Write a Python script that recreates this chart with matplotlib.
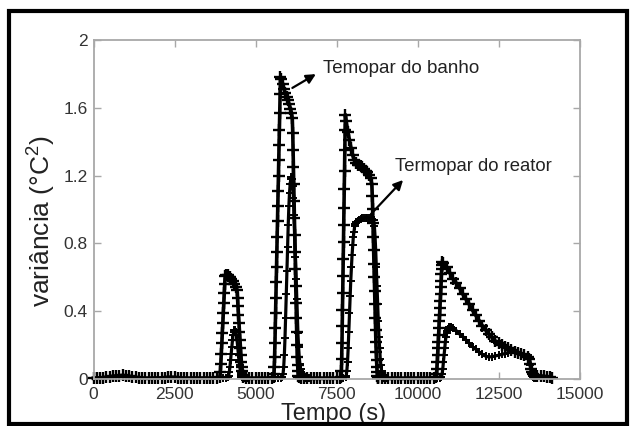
import matplotlib
matplotlib.use("Agg")
import matplotlib.pyplot as plt
from matplotlib.patches import Rectangle

plt.rcParams['font.family'] = ['Liberation Sans', 'DejaVu Sans']
plt.rcParams['mathtext.fontset'] = 'custom'
plt.rcParams['mathtext.rm'] = 'Liberation Sans'
plt.rcParams['mathtext.it'] = 'Liberation Sans'

# Termopar do banho: time (s) and variance (°C^2)
t_banho = [
    0, 100, 200, 300, 400, 500, 600, 700, 800, 900, 1000, 1100, 1200, 1300, 1400, 1500, 1600, 1700, 1800, 1900,
    2000, 2100, 2200, 2300, 2400, 2500, 2600, 2700, 2800, 2900, 3000, 3100, 3200, 3300, 3400, 3500, 3600, 3700, 3800, 3900,
    3915, 3930, 3945, 3960, 3975, 3990, 4005, 4020, 4035, 4050, 4065,
    4100, 4150, 4200, 4250, 4300, 4350, 4400, 4430,
    4445, 4460, 4475, 4490, 4505, 4520, 4535, 4550, 4565, 4580, 4595, 4610, 4625,
    4700, 4800, 4900, 5000, 5100, 5200, 5300, 5400, 5500,
    5560, 5570, 5580, 5590, 5600, 5610, 5620, 5630, 5640, 5650, 5660, 5670, 5680, 5690, 5700, 5710, 5720, 5730, 5740, 5750, 5760, 5770,
    5800, 5840, 5880, 5920, 5960, 6000, 6040, 6080, 6110, 6135,
    6150, 6160, 6170, 6180, 6190, 6200, 6210, 6220, 6230, 6240, 6250, 6260, 6270, 6280, 6290, 6300, 6310, 6320, 6330,
    6400, 6500, 6600, 6700, 6800, 6900, 7000, 7100, 7200, 7300, 7400, 7500, 7600,
    7645, 7653, 7661, 7669, 7677, 7685, 7693, 7701, 7709, 7717, 7725, 7733, 7741, 7749, 7757, 7765, 7773,
    7800, 7850, 7900, 7950, 8000, 8050, 8100, 8150, 8200, 8250, 8300, 8350, 8400, 8450, 8500, 8550, 8590,
    8605, 8615, 8625, 8635, 8645, 8655, 8665, 8675, 8685, 8695, 8705, 8715, 8725, 8735, 8745, 8755, 8765, 8775, 8785, 8795,
    8900, 9000, 9100, 9200, 9300, 9400, 9500, 9600, 9700, 9800, 9900, 10000, 10100, 10200, 10300, 10400, 10500,
    10580, 10590, 10600, 10610, 10620, 10630, 10640, 10650, 10660, 10670, 10680, 10690, 10700, 10710, 10720, 10730, 10740, 10750, 10760, 10770,
    10800, 10900, 11000, 11100, 11200, 11300, 11400, 11500, 11600, 11700, 11800, 11900, 12000, 12100, 12200, 12300, 12400, 12500,
    12600, 12700, 12800, 12900, 13000, 13100, 13200, 13300, 13400,
    13450, 13480, 13510, 13540, 13570, 13600, 13650, 13700, 13800, 13900, 14000, 14100, 14150,
]
v_banho = [
    0.004, 0.005, 0.006, 0.008, 0.010, 0.013, 0.016, 0.018, 0.020, 0.021, 0.019, 0.016, 0.012, 0.009, 0.007, 0.005, 0.004, 0.004, 0.004, 0.005,
    0.005, 0.006, 0.008, 0.009, 0.010, 0.009, 0.007, 0.005, 0.004, 0.004, 0.004, 0.005, 0.004, 0.004, 0.005, 0.004, 0.004, 0.005, 0.006, 0.010,
    0.04, 0.09, 0.15, 0.21, 0.27, 0.33, 0.39, 0.45, 0.51, 0.56, 0.61,
    0.615, 0.612, 0.60, 0.59, 0.578, 0.562, 0.545, 0.525,
    0.48, 0.43, 0.38, 0.33, 0.28, 0.23, 0.18, 0.14, 0.10, 0.07, 0.045, 0.025, 0.012,
    0.005, 0.004, 0.004, 0.003, 0.004, 0.004, 0.003, 0.004, 0.005,
    0.01, 0.03, 0.07, 0.13, 0.21, 0.30, 0.39, 0.48, 0.57, 0.66, 0.75, 0.84, 0.93, 1.02, 1.11, 1.20, 1.29, 1.38, 1.47, 1.57, 1.68, 1.78,
    1.77, 1.74, 1.71, 1.685, 1.665, 1.645, 1.62, 1.595, 1.57, 1.54,
    1.45, 1.35, 1.25, 1.15, 1.05, 0.95, 0.85, 0.75, 0.65, 0.55, 0.45, 0.36, 0.28, 0.20, 0.13, 0.08, 0.045, 0.02, 0.01,
    0.004, 0.004, 0.003, 0.004, 0.003, 0.003, 0.004, 0.003, 0.004, 0.003, 0.004, 0.004, 0.005,
    0.01, 0.05, 0.12, 0.21, 0.31, 0.41, 0.51, 0.61, 0.71, 0.81, 0.91, 1.01, 1.12, 1.23, 1.35, 1.47, 1.56,
    1.52, 1.46, 1.41, 1.36, 1.32, 1.29, 1.275, 1.265, 1.26, 1.255, 1.25, 1.24, 1.23, 1.22, 1.205, 1.185, 1.15,
    1.08, 1.00, 0.92, 0.84, 0.76, 0.68, 0.60, 0.52, 0.44, 0.36, 0.29, 0.22, 0.16, 0.11, 0.07, 0.04, 0.02, 0.012, 0.007, 0.005,
    0.004, 0.003, 0.004, 0.003, 0.004, 0.004, 0.003, 0.003, 0.004, 0.003, 0.004, 0.003, 0.004, 0.004, 0.003, 0.004, 0.005,
    0.01, 0.03, 0.06, 0.10, 0.14, 0.18, 0.22, 0.26, 0.30, 0.34, 0.38, 0.42, 0.46, 0.50, 0.54, 0.58, 0.62, 0.65, 0.675, 0.69,
    0.685, 0.66, 0.625, 0.59, 0.565, 0.535, 0.50, 0.47, 0.44, 0.405, 0.375, 0.345, 0.315, 0.29, 0.265, 0.245, 0.225, 0.21,
    0.20, 0.19, 0.18, 0.17, 0.16, 0.155, 0.15, 0.14, 0.13,
    0.12, 0.09, 0.06, 0.04, 0.03, 0.025, 0.02, 0.02, 0.018, 0.015, 0.012, 0.01, 0.008,
]

# Termopar do reator: time (s) and variance (°C^2)
t_reator = [
    0, 100, 200, 300, 400, 500, 600, 700, 800, 900, 1000, 1100, 1200, 1300, 1400, 1500, 1600, 1700, 1800, 1900, 2000,
    2100, 2200, 2300, 2400, 2500, 2600, 2700, 2800, 2900, 3000, 3100, 3200, 3300, 3400, 3500, 3600, 3700, 3800, 3900, 4000, 4100,
    4150, 4170, 4190, 4210, 4230, 4250, 4270, 4290, 4310, 4330, 4350, 4370,
    4390, 4410, 4430, 4450, 4470, 4490, 4510, 4530, 4550, 4570, 4590, 4610, 4630, 4650, 4670, 4690, 4710, 4730, 4750,
    4800, 4900, 5000, 5100, 5200, 5300, 5400, 5500, 5600, 5700, 5800,
    5830, 5850, 5870, 5890, 5910, 5930, 5950, 5970, 5990, 6010, 6030, 6050, 6070, 6090, 6110,
    6130, 6150, 6170, 6190, 6210, 6230, 6250, 6270, 6290, 6310, 6330, 6350, 6370, 6390, 6410, 6430, 6450, 6470, 6490, 6510,
    6530, 6550, 6570, 6590, 6610, 6630, 6650,
    6700, 6800, 6900, 7000, 7100, 7200, 7300, 7400, 7500, 7600, 7700,
    7780, 7800, 7820, 7840, 7860, 7880, 7900, 7920, 7940, 7960, 7980, 8000, 8020, 8040, 8060, 8080, 8100, 8150, 8200,
    8250, 8300, 8350, 8400, 8450, 8500, 8550, 8600, 8650,
    8670, 8690, 8710, 8730, 8750, 8770, 8790, 8810, 8830, 8850, 8870, 8890, 8910, 8930, 8950, 8970, 8990, 9010, 9030, 9050,
    9100, 9200, 9300, 9400, 9500, 9600, 9700, 9800, 9900, 10000, 10100, 10200, 10300, 10400, 10500, 10600, 10700,
    10740, 10760, 10780, 10800, 10820, 10840, 10860, 10880, 10900, 10920, 10940, 10960, 10980, 11000, 11020, 11040,
    11100, 11200, 11300, 11400, 11500, 11600, 11700, 11800, 11900, 12000, 12100, 12200, 12300, 12400, 12500, 12600,
    12700, 12800, 12900, 13000, 13100, 13200, 13300, 13400,
    13450, 13480, 13510, 13540, 13570, 13600, 13700, 13800,
]
v_reator = [
    0.003, 0.004, 0.005, 0.006, 0.008, 0.010, 0.012, 0.014, 0.015, 0.015, 0.014, 0.012, 0.010, 0.008, 0.006, 0.004, 0.003, 0.003, 0.003, 0.004, 0.004,
    0.005, 0.006, 0.007, 0.007, 0.006, 0.005, 0.004, 0.003, 0.003, 0.003, 0.004, 0.003, 0.003, 0.004, 0.003, 0.003, 0.004, 0.004, 0.005, 0.006, 0.008,
    0.01, 0.02, 0.04, 0.07, 0.11, 0.15, 0.19, 0.23, 0.26, 0.28, 0.29, 0.29,
    0.28, 0.26, 0.23, 0.19, 0.15, 0.11, 0.08, 0.05, 0.035, 0.022, 0.014, 0.009, 0.006, 0.005, 0.004, 0.004, 0.003, 0.003, 0.003,
    0.003, 0.003, 0.004, 0.003, 0.003, 0.004, 0.003, 0.003, 0.004, 0.004, 0.005,
    0.01, 0.03, 0.07, 0.14, 0.24, 0.36, 0.50, 0.64, 0.78, 0.91, 1.02, 1.10, 1.15, 1.18, 1.19,
    1.18, 1.14, 1.07, 0.97, 0.85, 0.72, 0.59, 0.47, 0.36, 0.27, 0.19, 0.13, 0.09, 0.06, 0.04, 0.03, 0.02, 0.015, 0.011, 0.008,
    0.006, 0.005, 0.004, 0.004, 0.003, 0.003, 0.003,
    0.003, 0.003, 0.004, 0.003, 0.003, 0.003, 0.004, 0.003, 0.003, 0.004, 0.004,
    0.01, 0.02, 0.05, 0.10, 0.18, 0.28, 0.39, 0.49, 0.58, 0.66, 0.73, 0.79, 0.84, 0.87, 0.90, 0.915, 0.925, 0.935, 0.94,
    0.945, 0.948, 0.95, 0.952, 0.952, 0.95, 0.948, 0.945, 0.94,
    0.90, 0.84, 0.76, 0.66, 0.55, 0.44, 0.34, 0.25, 0.18, 0.12, 0.08, 0.05, 0.03, 0.02, 0.012, 0.008, 0.005, 0.004, 0.003, 0.003,
    0.003, 0.003, 0.004, 0.003, 0.003, 0.003, 0.004, 0.003, 0.003, 0.004, 0.003, 0.003, 0.004, 0.003, 0.003, 0.004, 0.004,
    0.01, 0.03, 0.06, 0.10, 0.14, 0.18, 0.22, 0.25, 0.27, 0.285, 0.295, 0.302, 0.306, 0.308, 0.309, 0.309,
    0.30, 0.285, 0.265, 0.25, 0.23, 0.21, 0.19, 0.175, 0.16, 0.145, 0.135, 0.13, 0.132, 0.136, 0.14, 0.145,
    0.15, 0.155, 0.16, 0.16, 0.155, 0.15, 0.145, 0.14,
    0.12, 0.08, 0.04, 0.02, 0.01, 0.006, 0.004, 0.003,
]

x_ticks = [0, 2500, 5000, 7500, 10000, 12500, 15000]
x_ticklabels = ["0", "2500", "5000", "7500", "10000", "12500", "15000"]
y_ticks = [0, 0.4, 0.8, 1.2, 1.6, 2.0]
y_ticklabels = ["0", "0.4", "0.8", "1.2", "1.6", "2"]

fig = plt.figure(figsize=(6.3, 4.26), dpi=100)
ax = fig.add_axes([93.5 / 630, 47 / 426, 486 / 630, 339 / 426])

ax.plot(t_banho, v_banho, color="black", marker="+", markersize=8,
        markeredgewidth=1.7, linewidth=2.6, clip_on=False)
ax.plot(t_reator, v_reator, color="black", marker="+", markersize=6,
        markeredgewidth=1.4, linewidth=2.3, clip_on=False)

ax.set_xlim(0, 15000)
ax.set_ylim(0, 2)
ax.set_xticks(x_ticks)
ax.set_xticklabels(x_ticklabels)
ax.set_yticks(y_ticks)
ax.set_yticklabels(y_ticklabels)

spine_color = "#a8a8a8"
for s in ax.spines.values():
    s.set_color(spine_color)
    s.set_linewidth(1.3)
ax.tick_params(direction="in", length=5, width=1.0, color=spine_color,
               top=True, right=True, labelsize=12.5, labelcolor="#333333")
ax.tick_params(axis="x", pad=6)
ax.tick_params(axis="y", pad=4)

ax.text(0.493, -0.072, "Tempo (s)", transform=ax.transAxes, ha="center", va="top",
        fontsize=17, color="#222222")
ax.text(-0.106, 0.466, "variância (°C$^2$)", transform=ax.transAxes, rotation=90,
        ha="center", va="center", fontsize=19, color="#222222")

arrow = dict(arrowstyle="-|>", color="black", lw=1.6, mutation_scale=14)
ax.annotate("", xy=(6937, 1.807), xytext=(6064, 1.709), arrowprops=arrow)
ax.text(7092, 1.833, "Temopar do banho", ha="left", va="center",
        fontsize=13.5, color="#222222")
ax.annotate("", xy=(9613, 1.186), xytext=(8500, 0.96), arrowprops=arrow)
ax.text(9304, 1.251, "Termopar do reator", ha="left", va="center",
        fontsize=13.3, color="#222222")

# black frame around the whole figure
fig.patches.append(Rectangle((9 / 630, 2.5 / 426), 618 / 630, 413 / 426,
                             transform=fig.transFigure, fill=False,
                             edgecolor="black", linewidth=3, zorder=10))

fig.savefig("out.png", dpi=100)
